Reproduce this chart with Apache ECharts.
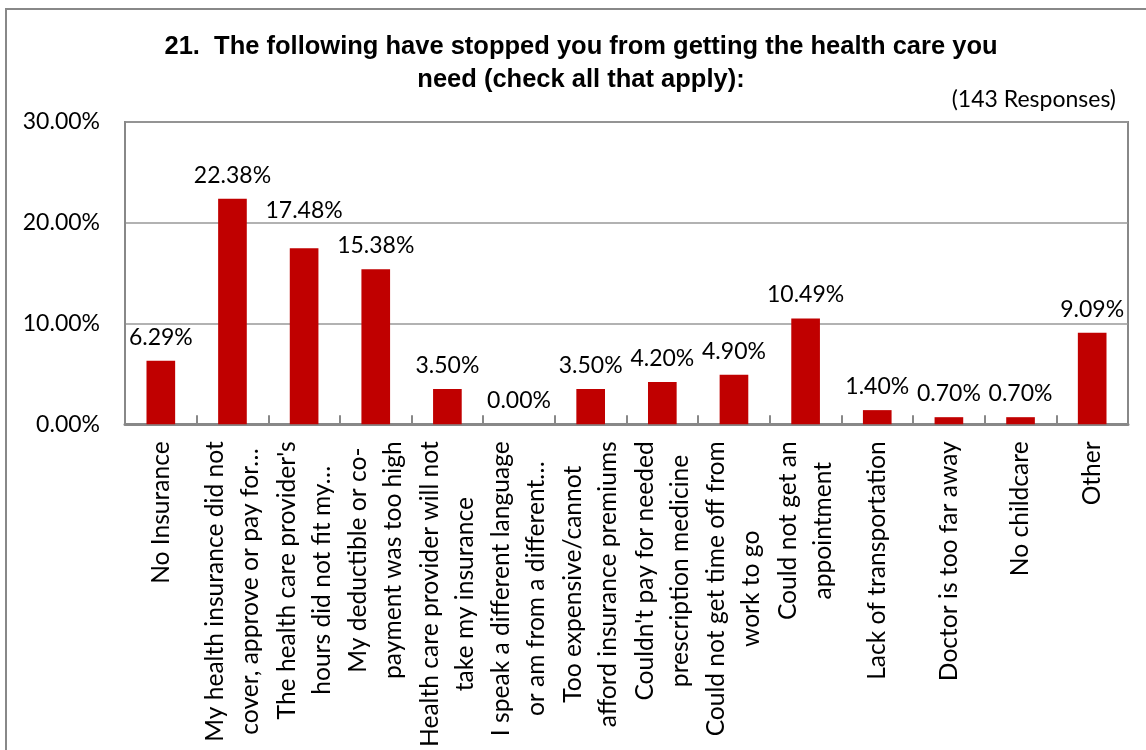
<!DOCTYPE html>
<html>
<head>
<meta charset="utf-8">
<script src="https://cdn.jsdelivr.net/npm/echarts@6/dist/echarts.min.js"></script>
<style>
  html, body { margin: 0; padding: 0; background: #fff; }
  #chart { width: 1146px; height: 750px; }
</style>
</head>
<body>
<div id="chart"></div>
<script>
// Survey question 21: barriers to getting needed health care (share of responses)
const categories = [
  "No Insurance",
  "My health insurance did not\ncover, approve or pay for…",
  "The health care provider's\nhours did not fit my…",
  "My deductible or co-\npayment was too high",
  "Health care provider will not\ntake my insurance",
  "I speak a different language\nor am from a different…",
  "Too expensive/cannot\nafford insurance premiums",
  "Couldn't pay for needed\nprescription medicine",
  "Could not get time off from\nwork to go",
  "Could not get an\nappointment",
  "Lack of transportation",
  "Doctor is too far away",
  "No childcare",
  "Other"
];
const percentages = [6.29, 22.38, 17.48, 15.38, 3.50, 0.00, 3.50, 4.20, 4.90, 10.49, 1.40, 0.70, 0.70, 9.09];
const yTicks = [0, 10, 20, 30];
const titleLines = [
  "21.  The following have stopped you from getting the health care you",
  "need (check all that apply):"
];
const responseNote = "(143 Responses)";

const LABEL_FONT = "Lato, 'Open Sans', sans-serif";
const GRAY = "#888888";

// the label over the third bar is lifted so it clears its taller neighbour's label
const liftedLabels = { 2: 14 };

const seriesData = percentages.map((v, i) => {
  const item = { value: v };
  if (liftedLabels[i]) item.label = { offset: [0, -liftedLabels[i]] };
  return item;
});

const chart = echarts.init(document.getElementById('chart'), null, { renderer: 'canvas' });

chart.setOption({
  backgroundColor: '#ffffff',
  animation: false,
  graphic: [
    {
      type: 'rect',
      shape: { x: 6, y: 9, width: 1170, height: 780 },
      style: { fill: 'none', stroke: GRAY, lineWidth: 2 },
      silent: true
    },
    {
      type: 'text',
      x: 581, y: 30,
      style: {
        text: titleLines.join('\n'),
        textAlign: 'center',
        textVerticalAlign: 'top',
        font: "bold 25.5px 'Liberation Sans', Arial, sans-serif",
        lineHeight: 33,
        fill: '#000'
      }
    },
    {
      type: 'text',
      x: 1116, y: 100,
      style: {
        text: responseNote,
        textAlign: 'right',
        textVerticalAlign: 'middle',
        font: "23px " + LABEL_FONT,
        fill: '#000'
      }
    }
  ],
  grid: {
    left: 125, right: 18, top: 122, bottom: 324,
    show: true, borderColor: GRAY, borderWidth: 2,
    containLabel: false
  },
  xAxis: {
    type: 'category',
    data: categories,
    boundaryGap: true,
    axisLine: { show: true, lineStyle: { color: GRAY, width: 3 } },
    axisTick: { show: true, inside: true, length: 9, lineStyle: { color: GRAY, width: 2 } },
    axisLabel: {
      interval: 0,
      rotate: 90,
      margin: 17,
      color: '#000',
      formatter: (v) => v.split('\n').map(l => '{c|' + l + '}').join('\n'),
      rich: {
        c: { align: 'center', fontFamily: LABEL_FONT, fontSize: 24.6, lineHeight: 35, color: '#000' }
      }
    }
  },
  yAxis: {
    type: 'value',
    min: yTicks[0],
    max: yTicks[yTicks.length - 1],
    interval: yTicks[1] - yTicks[0],
    axisLine: { show: true, lineStyle: { color: GRAY, width: 2 } },
    axisTick: { show: false },
    splitLine: { show: true, lineStyle: { color: '#999999', width: 1.5 } },
    axisLabel: {
      margin: 25,
      color: '#000',
      fontFamily: LABEL_FONT,
      fontSize: 23,
      formatter: (v) => v.toFixed(2) + '%'
    }
  },
  series: [{
    type: 'bar',
    data: seriesData,
    barWidth: '40%',
    itemStyle: { color: '#C00000' },
    label: {
      show: true,
      position: 'top',
      distance: 12,
      color: '#000',
      fontFamily: LABEL_FONT,
      fontSize: 23,
      formatter: (p) => p.value.toFixed(2) + '%'
    }
  }]
});
</script>
</body>
</html>
